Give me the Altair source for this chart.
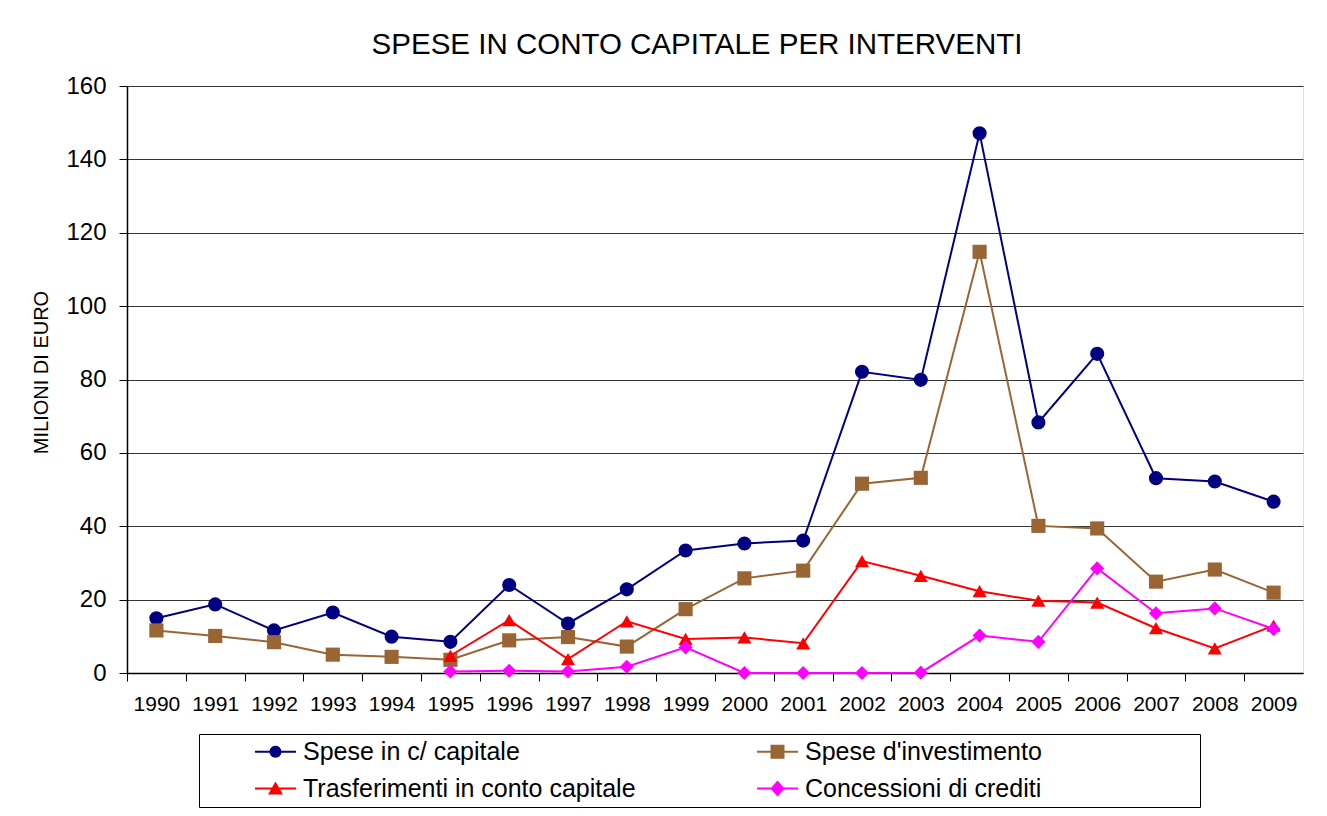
import altair as alt
import pandas as pd

# ---- data (milioni di euro) ----
anni = [str(y) for y in range(1990, 2010)]
serie_nomi = ["Spese in c/ capitale", "Spese d'investimento",
              "Trasferimenti in conto capitale", "Concessioni di crediti"]
spese_cc = [14.9, 18.7, 11.6, 16.5, 9.9, 8.5, 24.0, 13.5, 22.8, 33.4, 35.3, 36.1,
            82.1, 79.9, 147.1, 68.3, 87.0, 53.1, 52.2, 46.7]
spese_inv = [11.6, 10.1, 8.4, 5.0, 4.4, 3.6, 8.9, 9.8, 7.2, 17.4, 25.8, 27.9,
             51.6, 53.2, 114.8, 40.1, 39.4, 24.9, 28.2, 21.9]
trasferimenti = [None, None, None, None, None, 4.7, 14.4, 3.8, 14.1, 9.3, 9.7, 8.1,
                 30.5, 26.5, 22.3, 19.7, 19.2, 12.2, 6.7, 12.9]
concessioni = [None, None, None, None, None, 0.4, 0.6, 0.4, 1.7, 7.0, 0.0, 0.0,
               0.0, 0.1, 10.2, 8.5, 28.5, 16.3, 17.6, 12.0]

colori = ["#000080", "#996633", "#FF0000", "#FF00FF"]
forme = ["circle", "square", "triangle-up", "diamond"]

# legend order (entries fill column by column in a 2-column legend)
ordine_legenda = [serie_nomi[0], serie_nomi[2], serie_nomi[1], serie_nomi[3]]
colori_legenda = [colori[0], colori[2], colori[1], colori[3]]
LINEA = "M-1.864,-0.09L1.864,-0.09L1.864,0.09L-1.864,0.09Z "
forme_legenda = [
    LINEA + "M-0.545,0A0.545,0.545 0 1,1 0.545,0A0.545,0.545 0 1,1 -0.545,0Z",
    LINEA + "M0,-0.636L0.68,0.545L-0.68,0.545Z",
    LINEA + "M-0.636,-0.636L0.636,-0.636L0.636,0.636L-0.636,0.636Z",
    LINEA + "M0,-0.727L0.636,0L0,0.727L-0.636,0Z",
]

rows = []
for nome, valori in zip(serie_nomi, [spese_cc, spese_inv, trasferimenti, concessioni]):
    for anno, v in zip(anni, valori):
        if v is not None:
            rows.append({"anno": anno, "serie": nome, "valore": v})
df = pd.DataFrame(rows)

FONT = "Liberation Sans"
W, H = 1176, 587
step = W / len(anni)

x_enc = alt.X(
    "anno:O",
    sort=anni,
    scale=alt.Scale(type="point", domain=anni, padding=0.5),
    axis=alt.Axis(
        title=None, labelAngle=0, labelFontSize=21, labelFont=FONT, labelColor="black",
        tickSize=8, tickColor="black", tickOffset=-step / 2, labelOffset=step / 2,
        domainColor="black", domainWidth=1.5, labelPadding=12, grid=False,
    ),
)
y_enc = alt.Y(
    "valore:Q",
    scale=alt.Scale(domain=[0, 160], nice=False),
    axis=alt.Axis(
        values=list(range(0, 161, 20)), labelFontSize=24, labelFont=FONT, labelColor="black",
        tickSize=8, tickColor="black", labelPadding=13, domainColor="black", domainWidth=1.5,
        grid=True, gridColor="#333333", gridWidth=1,
        title="MILIONI DI EURO", titleFont=FONT, titleFontSize=20, titleFontWeight="normal",
        titleColor="black", titleX=-80, titleY=286, titleAngle=-90,
        titleBaseline="alphabetic", titleAlign="center",
    ),
)
color_scale = alt.Scale(domain=serie_nomi, range=colori)

layers = []
for nome, forma in zip(serie_nomi, forme):
    base = alt.Chart(df).transform_filter(alt.datum.serie == nome)
    layers.append(
        base.mark_line(strokeWidth=2).encode(
            x=x_enc, y=y_enc,
            color=alt.Color("serie:N", scale=color_scale, legend=None),
        )
    )
    layers.append(
        base.mark_point(shape=forma, filled=True, opacity=1, size=200, strokeWidth=0).encode(
            x=x_enc, y=y_enc,
            color=alt.Color("serie:N", scale=color_scale, legend=None),
        )
    )

# right-hand blank room inside the legend box (NBSPs kept by a final zero-width space)
PAD = "\u00a0" * 22 + "\u200b"
label_expr = (
    f'(datum.label === "{serie_nomi[1]}" || datum.label === "{serie_nomi[3]}") '
    f'? datum.label + "{PAD}" : datum.label'
)
legenda = alt.Legend(
    orient="none", legendX=72, legendY=648, columns=2,
    title="MMMM", titleOrient="left", titleOpacity=0, titleFontSize=12.95, titlePadding=5,
    padding=5, fillColor="white", strokeColor="black",
    symbolSize=484, symbolStrokeWidth=0, symbolOpacity=1, symbolOffset=10,
    labelFont=FONT, labelFontSize=25, labelColor="black", labelOffset=15,
    labelLimit=800, columnPadding=119, rowPadding=11, labelExpr=label_expr,
)
legenda_layer = alt.Chart(df).mark_point(filled=True, opacity=1).encode(
    fill=alt.Fill("serie:N", scale=alt.Scale(domain=ordine_legenda, range=colori_legenda),
                  legend=legenda),
    shape=alt.Shape("serie:N", scale=alt.Scale(domain=ordine_legenda, range=forme_legenda),
                    legend=legenda),
).transform_filter("false")
layers.append(legenda_layer)

chart = alt.layer(*layers).properties(
    width=W, height=H,
    title=alt.TitleParams(
        "SPESE IN CONTO CAPITALE PER INTERVENTI", font=FONT, fontSize=29.5,
        fontWeight="normal", color="black", anchor="middle", dx=-18, offset=14,
    ),
    autosize=alt.AutoSizeParams(type="none"),
    padding={"left": 119, "top": 78, "right": 16, "bottom": 135},
).configure_view(
    stroke="#808080", strokeWidth=1
).configure(
    font=FONT
)

chart.save("out.html", embed_options={"renderer": "svg", "actions": False})
